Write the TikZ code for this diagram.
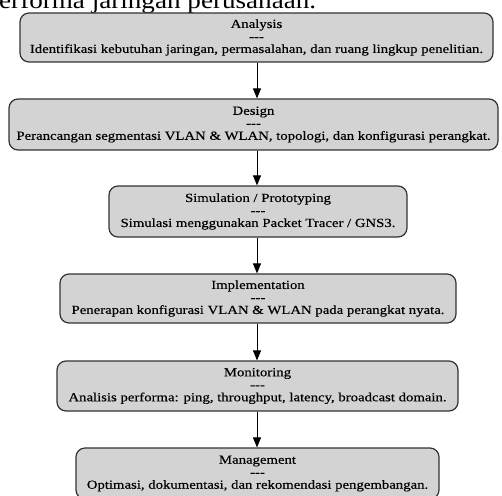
\documentclass[tikz,border=0pt]{standalone}
\usepackage{fontspec}
\setmainfont{Liberation Serif}
\newfontfamily\boxfont[FakeStretch=1.19,FakeBold=0.35]{Liberation Serif}
\newfontfamily\headfont[FakeStretch=1.13]{Liberation Serif}
\usetikzlibrary{arrows.meta}
\definecolor{boxfill}{HTML}{D3D3D3}
\definecolor{boxline}{HTML}{333333}
\newcommand{\sep}{-{}-{}-}
\begin{document}
\begin{tikzpicture}[x=1pt,y=-1pt,
  stage/.style={draw=boxline,line width=1.2pt,fill=boxfill,rounded corners=9pt,
    align=center,inner sep=0pt,font=\boxfont\fontsize{12.4}{12.5}\selectfont},
  arr/.style={draw=black,line width=0.9pt,-{Triangle[width=8pt,length=10pt]}}]
\useasboundingbox[clip] (0,0) rectangle (502,495);
\fill[white] (0,0) rectangle (502,495);
\node[anchor=base west,inner sep=0pt,font=\headfont\fontsize{24}{26}\selectfont] (head) at (-1,9) {erforma jaringan perusahaan.};
\node[stage,minimum width=473pt,minimum height=49pt] (a) at (256.5,37.5)
  {Analysis\\\sep\\Identifikasi kebutuhan jaringan, permasalahan, dan ruang lingkup penelitian.};
\node[stage,minimum width=489pt,minimum height=51pt] (b) at (253.5,124.5)
  {Design\\\sep\\Perancangan segmentasi VLAN \& WLAN, topologi, dan konfigurasi perangkat.};
\node[stage,minimum width=298pt,minimum height=51pt] (c) at (258,211.5)
  {Simulation / Prototyping\\\sep\\Simulasi menggunakan Packet Tracer / GNS3.};
\node[stage,minimum width=396pt,minimum height=49pt] (d) at (258,298.5)
  {Implementation\\\sep\\Penerapan konfigurasi VLAN \& WLAN pada perangkat nyata.};
\node[stage,minimum width=401pt,minimum height=50pt] (e) at (257.5,386)
  {Monitoring\\\sep\\Analisis performa: ping, throughput, latency, broadcast domain.};
\node[stage,minimum width=363pt,minimum height=51pt] (f) at (257.5,473.5)
  {Management\\\sep\\Optimasi, dokumentasi, dan rekomendasi pengembangan.};
\coordinate (ax) at (257,0);
\draw[arr] (a.south -| ax) -- (b.north -| ax);
\draw[arr] (b.south -| ax) -- (c.north -| ax);
\draw[arr] (c.south -| ax) -- (d.north -| ax);
\draw[arr] (d.south -| ax) -- (e.north -| ax);
\draw[arr] (e.south -| ax) -- (f.north -| ax);
\end{tikzpicture}
\end{document}
